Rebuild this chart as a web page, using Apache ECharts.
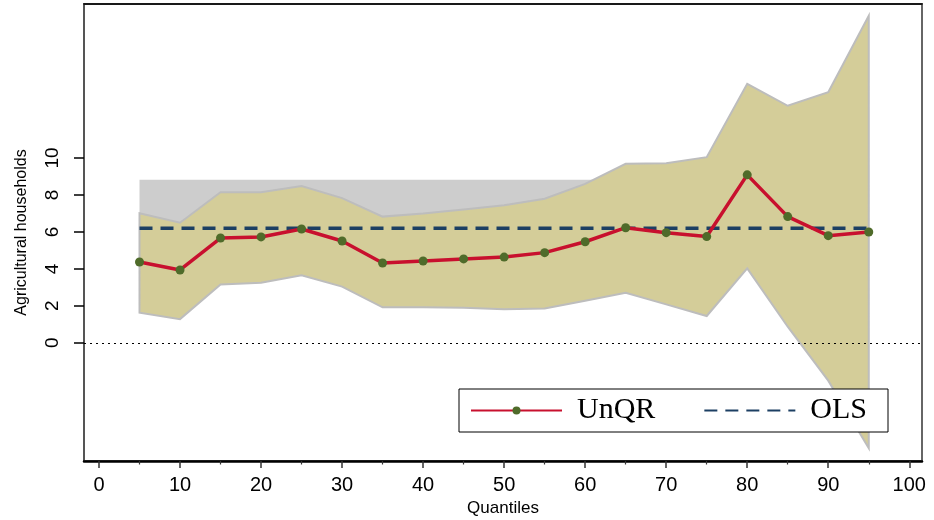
<!DOCTYPE html>
<html>
<head>
<meta charset="utf-8">
<script src="https://cdn.jsdelivr.net/npm/echarts@6/dist/echarts.min.js"></script>
<style>
  html, body { margin: 0; padding: 0; background: #fff; }
  #chart { width: 934px; height: 520px; }
</style>
</head>
<body>
<div id="chart"></div>
<script>
// Quantile grid
const quantiles = [5, 10, 15, 20, 25, 30, 35, 40, 45, 50, 55, 60, 65, 70, 75, 80, 85, 90, 95];
// Unconditional quantile regression estimates
const unqr = [4.37, 3.94, 5.67, 5.73, 6.16, 5.51, 4.32, 4.43, 4.54, 4.64, 4.88, 5.47, 6.23, 5.96, 5.75, 9.09, 6.83, 5.80, 6.00];
// UnQR confidence band
const unqrLow = [1.63, 1.28, 3.16, 3.25, 3.65, 3.04, 1.92, 1.92, 1.90, 1.82, 1.86, 2.28, 2.71, 2.08, 1.45, 4.03, 0.87, -2.05, -5.71];
const unqrHigh = [7.01, 6.50, 8.15, 8.15, 8.49, 7.83, 6.83, 7.00, 7.22, 7.45, 7.80, 8.60, 9.69, 9.72, 10.05, 14.02, 12.83, 13.57, 17.70];
// OLS estimate and its confidence band
const ols = [6.2, 6.2, 6.2, 6.2, 6.2, 6.2, 6.2, 6.2, 6.2, 6.2, 6.2, 6.2, 6.2, 6.2, 6.2, 6.2, 6.2, 6.2, 6.2];
const olsLow = [4.2, 4.2, 4.2, 4.2, 4.2, 4.2, 4.2, 4.2, 4.2, 4.2, 4.2, 4.2, 4.2, 4.2, 4.2, 4.2, 4.2, 4.2, 4.2];
const olsHigh = [8.82, 8.82, 8.82, 8.82, 8.82, 8.82, 8.82, 8.82, 8.82, 8.82, 8.82, 8.82, 8.82, 8.82, 8.82, 8.82, 8.82, 8.82, 8.82];
// Axis ticks
const xMajorTicks = [0, 10, 20, 30, 40, 50, 60, 70, 80, 90, 100];
const xMinorTicks = [5, 15, 25, 35, 45, 55, 65, 75, 85, 95];
const yTicks = [0, 2, 4, 6, 8, 10];

const X_MIN = -1.85, X_MAX = 101.57;
const Y_MIN = -6.4, Y_MAX = 18.34;

const chart = echarts.init(document.getElementById('chart'), null, { renderer: 'canvas' });

// Filled band polygon: upper edge left-to-right, lower edge back.
function bandSeries(name, low, high, fill, stroke, z) {
  return {
    name: name,
    type: 'custom',
    z: z,
    silent: true,
    data: [[quantiles[0], low[0]]],
    renderItem: function (params, api) {
      const pts = [];
      for (let i = 0; i < quantiles.length; i++) pts.push(api.coord([quantiles[i], high[i]]));
      for (let i = quantiles.length - 1; i >= 0; i--) pts.push(api.coord([quantiles[i], low[i]]));
      return {
        type: 'polygon',
        shape: { points: pts },
        style: stroke
          ? { fill: fill, stroke: stroke, lineWidth: 2, lineJoin: 'miter' }
          : { fill: fill, stroke: null, lineWidth: 0 }
      };
    }
  };
}

const axisFont = 'Liberation Sans, Arial, sans-serif';

chart.setOption({
  animation: false,
  backgroundColor: '#ffffff',
  grid: {
    left: 84, right: 12, top: 4, bottom: 59,
    containLabel: false,
    outerBoundsMode: 'none',
    show: true,
    borderColor: '#666666',
    borderWidth: 2,
    backgroundColor: 'transparent'
  },
  legend: {
    data: ['UnQR', { name: 'OLS', itemStyle: { opacity: 0 } }],
    left: 459, top: 389,
    orient: 'horizontal',
    itemWidth: 91,
    itemHeight: 10,
    itemGap: 48,
    padding: [6, 21, 6, 11],
    backgroundColor: '#ffffff',
    borderColor: '#000000',
    borderWidth: 1,
    borderRadius: 0,
    selectedMode: false,
    textStyle: {
      fontFamily: 'Liberation Serif, Times New Roman, serif',
      fontSize: 30,
      lineHeight: 31,
      color: '#000000',
      padding: [0, 0, 0, 10]
    }
  },
  xAxis: [
    {
      type: 'value', position: 'bottom', min: X_MIN, max: X_MAX,
      name: 'Quantiles', nameLocation: 'middle', nameGap: 38,
      nameTextStyle: { fontFamily: axisFont, fontSize: 17, color: '#000' },
      splitLine: { show: false },
      axisLine: { show: true, onZero: false, lineStyle: { color: '#000', width: 2.5 } },
      axisTick: { show: true, customValues: xMajorTicks, length: 7, lineStyle: { color: '#333', width: 1.5 } },
      axisLabel: { show: true, customValues: xMajorTicks, margin: 14, fontFamily: axisFont, fontSize: 20, color: '#000' }
    },
    {
      type: 'value', position: 'bottom', min: X_MIN, max: X_MAX,
      splitLine: { show: false },
      axisLine: { show: false, onZero: false },
      axisTick: { show: true, customValues: xMinorTicks, length: 3.5, lineStyle: { color: '#333', width: 1.2 } },
      axisLabel: { show: false }
    },
    {
      type: 'value', position: 'top', min: X_MIN, max: X_MAX,
      splitLine: { show: false },
      axisLine: { show: true, onZero: false, lineStyle: { color: '#000', width: 1.5 } },
      axisTick: { show: false },
      axisLabel: { show: false }
    }
  ],
  yAxis: [
    {
      type: 'value', position: 'left', min: Y_MIN, max: Y_MAX,
      name: 'Agricultural households', nameLocation: 'middle', nameGap: 54,
      nameTextStyle: { fontFamily: axisFont, fontSize: 16, color: '#000' },
      splitLine: { show: false },
      axisLine: { show: true, onZero: false, lineStyle: { color: '#555', width: 2 } },
      axisTick: { show: true, customValues: yTicks, length: 10, lineStyle: { color: '#000', width: 1.5 } },
      axisLabel: { show: true, customValues: yTicks, rotate: 90, margin: 22, fontFamily: axisFont, fontSize: 19, color: '#000' }
    }
  ],
  series: [
    {
      name: 'zero',
      type: 'line',
      z: 1,
      data: [],
      silent: true,
      markLine: {
        silent: true,
        symbol: ['none', 'none'],
        label: { show: false },
        lineStyle: { type: [2, 4], color: '#000', width: 1 },
        data: [{ yAxis: 0 }]
      }
    },
    bandSeries('OLS band', olsLow, olsHigh, '#cdcdcd', null, 2),
    bandSeries('UnQR band', unqrLow, unqrHigh, '#d4cd99', '#bdbdbd', 3),
    {
      name: 'OLS',
      type: 'line',
      z: 4,
      data: quantiles.map((q, i) => [q, ols[i]]),
      symbol: 'none',
      showSymbol: false,
      color: '#1c3f63',
      lineStyle: { color: '#1c3f63', width: 3.3, type: [13, 8] }
    },
    {
      name: 'UnQR',
      type: 'line',
      z: 5,
      data: quantiles.map((q, i) => [q, unqr[i]]),
      symbol: 'circle',
      symbolSize: 9,
      color: '#4f6b2a',
      itemStyle: { color: '#4f6b2a' },
      lineStyle: { color: '#c8102e', width: 3.5 }
    }
  ]
});
</script>
</body>
</html>
